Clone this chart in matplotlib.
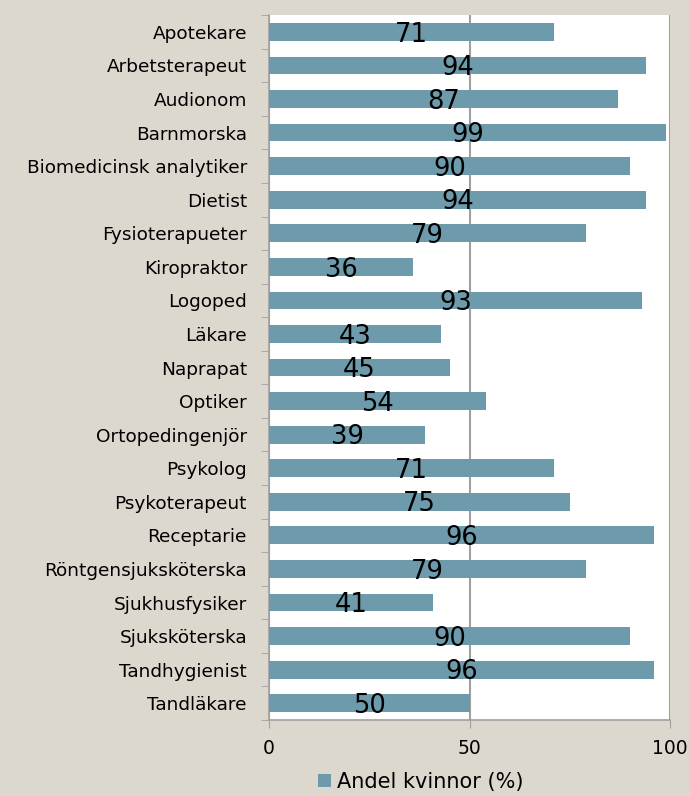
import matplotlib
matplotlib.use("Agg")
import matplotlib.pyplot as plt
import numpy as np

categories = ["Apotekare", "Arbetsterapeut", "Audionom", "Barnmorska",
              "Biomedicinsk analytiker", "Dietist", "Fysioterapueter", "Kiropraktor",
              "Logoped", "Läkare", "Naprapat", "Optiker", "Ortopedingenjör",
              "Psykolog", "Psykoterapeut", "Receptarie", "Röntgensjuksköterska",
              "Sjukhusfysiker", "Sjuksköterska", "Tandhygienist", "Tandläkare"]
values = [71, 94, 87, 99, 90, 94, 79, 36, 93, 43, 45, 54, 39, 71, 75, 96, 79, 41, 90, 96, 50]
xticks = [0, 50, 100]
series_name = "Andel kvinnor (%)"

BG = "#DDD8CE"
BAR = "#6D9BAB"
GRID = "#A0A0A0"

plt.rcParams['font.family'] = ['DejaVu Sans']
fig = plt.figure(figsize=(6.9, 7.96), dpi=100, facecolor=BG)
ax = fig.add_axes([0.390, 0.0955, 0.581, 0.8855])
ax.set_facecolor("white")

y = np.arange(len(categories))
bars = ax.barh(y, values, height=0.53, color=BAR, zorder=3, label=series_name)
for yi, v in zip(y, values):
    ax.text(v / 2, yi + 0.08, str(v), ha="center", va="center", fontsize=18.5,
            color="black", zorder=4)

ax.set_ylim(len(categories) - 0.5, -0.5)
ax.set_xlim(0, 100)
ax.set_yticks(y)
ax.set_yticklabels(categories, fontsize=13.3)
ax.tick_params(axis="y", which="major", length=0, pad=16)
ax.set_yticks(np.arange(len(categories) + 1) - 0.5, minor=True)
ax.tick_params(axis="y", which="minor", length=6, color=GRID, direction="out")
ax.set_xticks(xticks)
ax.set_xticklabels([str(t) for t in xticks], fontsize=13.5)
ax.tick_params(axis="x", length=6, color=GRID, pad=8)
ax.xaxis.grid(True, color=GRID, linewidth=1.5, zorder=1)
for s in ["top", "right"]:
    ax.spines[s].set_visible(False)
for s in ["left", "bottom"]:
    ax.spines[s].set_color(GRID)
    ax.spines[s].set_linewidth(1.2)

leg = fig.legend(handles=[bars], labels=[series_name], loc="center",
                 bbox_to_anchor=(0.61, 0.018), frameon=False, fontsize=15,
                 handlelength=0.6, handleheight=0.6, handletextpad=0.3)

fig.savefig("out.png", dpi=100, facecolor=BG)
